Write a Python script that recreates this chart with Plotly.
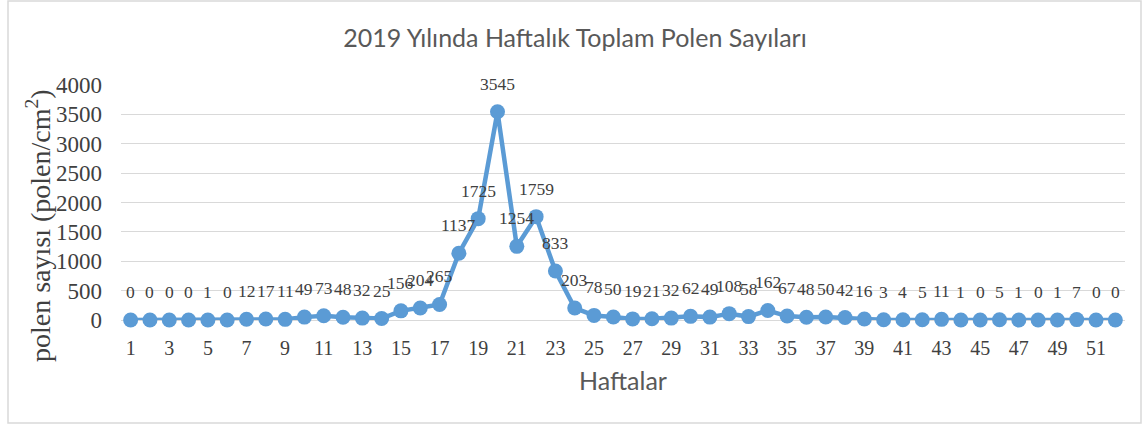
import plotly.graph_objects as go

weeks = list(range(1, 53))
pollen = [0, 0, 0, 0, 1, 0, 12, 17, 11, 49, 73, 48, 32, 25, 156, 204, 265,
          1137, 1725, 3545, 1254, 1759, 833, 203, 78, 50, 19, 21, 32, 62, 49,
          108, 58, 162, 67, 48, 50, 42, 16, 3, 4, 5, 11, 1, 0, 5, 1, 0, 1, 7, 0, 0]
y_ticks = [0, 500, 1000, 1500, 2000, 2500, 3000, 3500, 4000]
x_ticks = list(range(1, 53, 2))

title = "2019 Yılında Haftalık Toplam Polen Sayıları"
y_title = "polen sayısı (polen/cm<sup>2</sup>)"
x_title = "Haftalar"

LINE = "#5B9BD5"
GREY = "#595959"
DARK = "#404040"

L, R, T, B = 121, 1125, 85, 320
PW, PH = R - L, B - T

fig = go.Figure()
fig.add_trace(go.Scatter(
    x=weeks, y=pollen, mode="lines+markers",
    line=dict(color=LINE, width=4.5),
    marker=dict(color=LINE, size=15),
    cliponaxis=False, showlegend=False, hoverinfo="x+y",
))

for w, v in zip(weeks, pollen):
    fig.add_annotation(x=w, y=v, text=str(v), showarrow=False, yshift=28,
                       font=dict(family="Liberation Serif", size=17.5, color=DARK))

fig.add_annotation(xref="paper", yref="paper", x=(38 - L) / PW, y=(B - 226) / PH,
                   xanchor="center", yanchor="middle", text=y_title, textangle=-90,
                   showarrow=False,
                   font=dict(family="Liberation Serif", size=28, color=DARK))

fig.update_layout(
    width=1143, height=425,
    paper_bgcolor="white", plot_bgcolor="white",
    margin=dict(l=L, r=1143 - R, t=T, b=425 - B, autoexpand=False),
    title=dict(text=title, x=575 / 1143, xanchor="center", y=1 - 38 / 425, yanchor="middle",
               font=dict(family="Lato", size=25, color=GREY)),
    xaxis=dict(range=[0.5, 52.5], tickmode="array", tickvals=x_ticks,
               ticktext=[str(t) for t in x_ticks], showgrid=False, zeroline=False,
               showline=False, ticks="", automargin=False, ticklabelstandoff=14,
               tickfont=dict(family="Liberation Serif", size=20, color=DARK),
               title=dict(text=x_title, standoff=14,
                          font=dict(family="Lato", size=25, color=GREY))),
    yaxis=dict(range=[0, 4000], tickmode="array", tickvals=y_ticks,
               showgrid=True, gridcolor="#D9D9D9", gridwidth=1.3, zeroline=True,
               zerolinecolor="#D9D9D9", zerolinewidth=1.3, showline=False, ticks="",
               automargin=False, ticklabelstandoff=18,
               tickfont=dict(family="Liberation Serif", size=23, color=DARK)),
    shapes=[dict(type="rect", xref="paper", yref="paper",
                 x0=(8 - L) / PW, x1=(1141 - L) / PW,
                 y0=(B - 423) / PH, y1=(B - 1) / PH,
                 line=dict(color="#D9D9D9", width=1.5), layer="below")],
)

fig.write_html("out.html", config={"displayModeBar": False},
               post_script="document.body.style.margin='0';document.body.style.overflow='hidden';")
